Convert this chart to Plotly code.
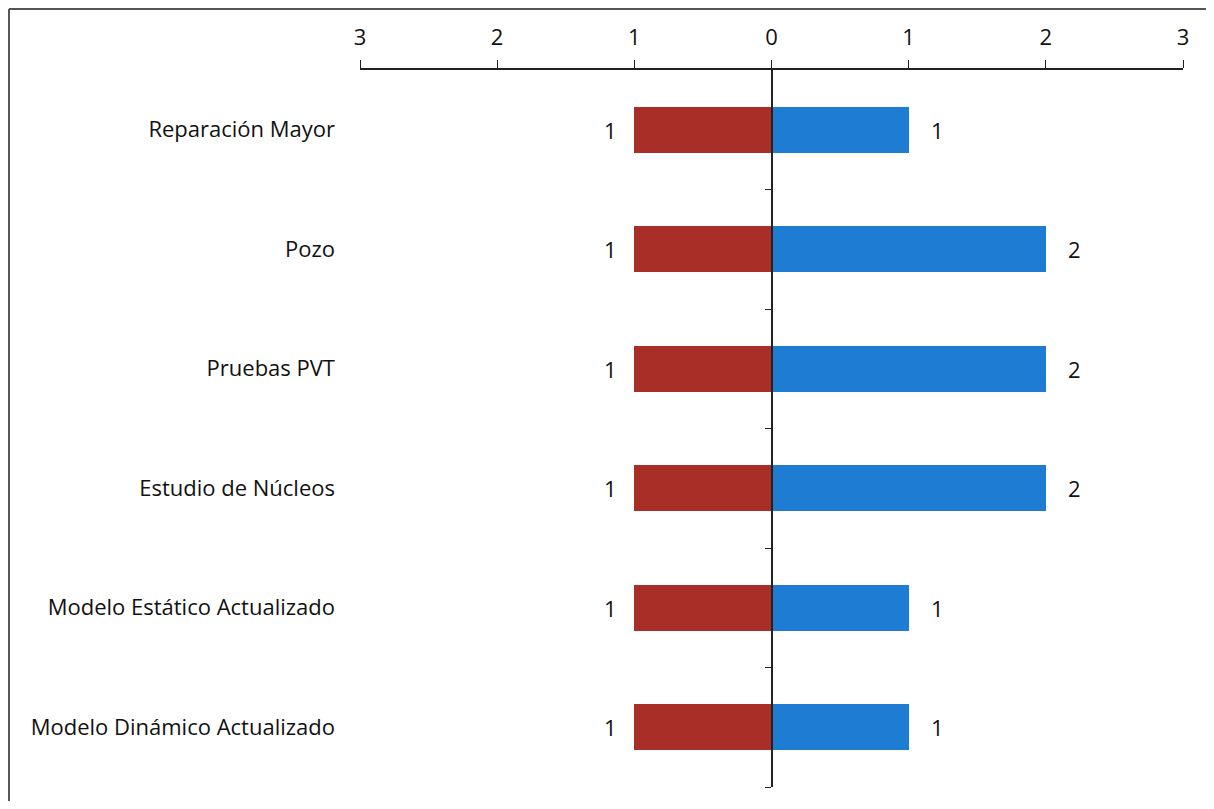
import plotly.graph_objects as go

categories = ["Reparación Mayor", "Pozo", "Pruebas PVT", "Estudio de Núcleos",
              "Modelo Estático Actualizado", "Modelo Dinámico Actualizado"]
left_values = [1, 1, 1, 1, 1, 1]
right_values = [1, 2, 2, 2, 1, 1]
x_tick_vals = [-3, -2, -1, 0, 1, 2, 3]
x_tick_text = ["3", "2", "1", "0", "1", "2", "3"]

RED = "#A92E27"
BLUE = "#1E7CD2"
FONT = "Open Sans"
FS = 22
TXT = "#111"

pos = list(range(len(categories)))
n = len(categories)

fig = go.Figure()
fig.add_trace(go.Bar(
    y=pos, x=[-v for v in left_values], orientation="h", width=0.385,
    marker=dict(color=RED, line=dict(width=0)),
    showlegend=False, hoverinfo="skip"))
fig.add_trace(go.Bar(
    y=pos, x=right_values, orientation="h", width=0.385,
    marker=dict(color=BLUE, line=dict(width=0)),
    showlegend=False, hoverinfo="skip"))
# invisible trace to bring up the centre axis
fig.add_trace(go.Scatter(x=[0], y=[0], yaxis="y2", mode="markers",
                         marker=dict(opacity=0), showlegend=False, hoverinfo="skip"))

annotations = []
for p, lv, rv in zip(pos, left_values, right_values):
    annotations.append(dict(x=-lv, y=p, xref="x", yref="y", text=str(lv), showarrow=False,
                            xanchor="right", xshift=-15,
                            font=dict(family=FONT, size=FS, color=TXT)))
    annotations.append(dict(x=rv, y=p, xref="x", yref="y", text=str(rv), showarrow=False,
                            xanchor="left", xshift=20,
                            font=dict(family=FONT, size=FS, color=TXT)))

fig.update_layout(
    width=1198, height=793,
    margin=dict(l=352, r=23, t=62, b=14),
    paper_bgcolor="white", plot_bgcolor="white",
    barmode="relative", bargap=0,
    font=dict(family=FONT, size=FS, color=TXT),
    xaxis=dict(side="top", range=[-3, 3], tickvals=x_tick_vals, ticktext=x_tick_text,
               showline=True, linecolor="#222", linewidth=1.5, ticks="outside",
               ticklen=8, tickcolor="#222", showgrid=False, zeroline=False,
               ticklabelstandoff=6,
               tickfont=dict(family=FONT, size=FS, color=TXT)),
    yaxis=dict(range=[n - 0.5, -0.5], tickvals=pos, ticktext=categories,
               showline=False, ticks="", showgrid=False, zeroline=False,
               ticklabelstandoff=24, tickfont=dict(family=FONT, size=FS, color=TXT)),
    yaxis2=dict(overlaying="y", anchor="free", position=0.5,
                range=[n - 0.5, -0.5], tickvals=[p + 0.5 for p in pos],
                showticklabels=False, showline=True, linecolor="#222", linewidth=1.5,
                ticks="outside", ticklen=6, tickcolor="#222", showgrid=False, zeroline=False),
    annotations=annotations,
    shapes=[
        dict(type="line", xref="paper", yref="paper", x0=-0.4265, x1=1.03, y0=1.0851, y1=1.0851,
             line=dict(color="#555", width=2)),
        dict(type="line", xref="paper", yref="paper", x0=-0.4265, x1=-0.4265, y0=1.0851, y1=-0.03,
             line=dict(color="#555", width=2)),
    ],
)

fig.write_html("out.html")
